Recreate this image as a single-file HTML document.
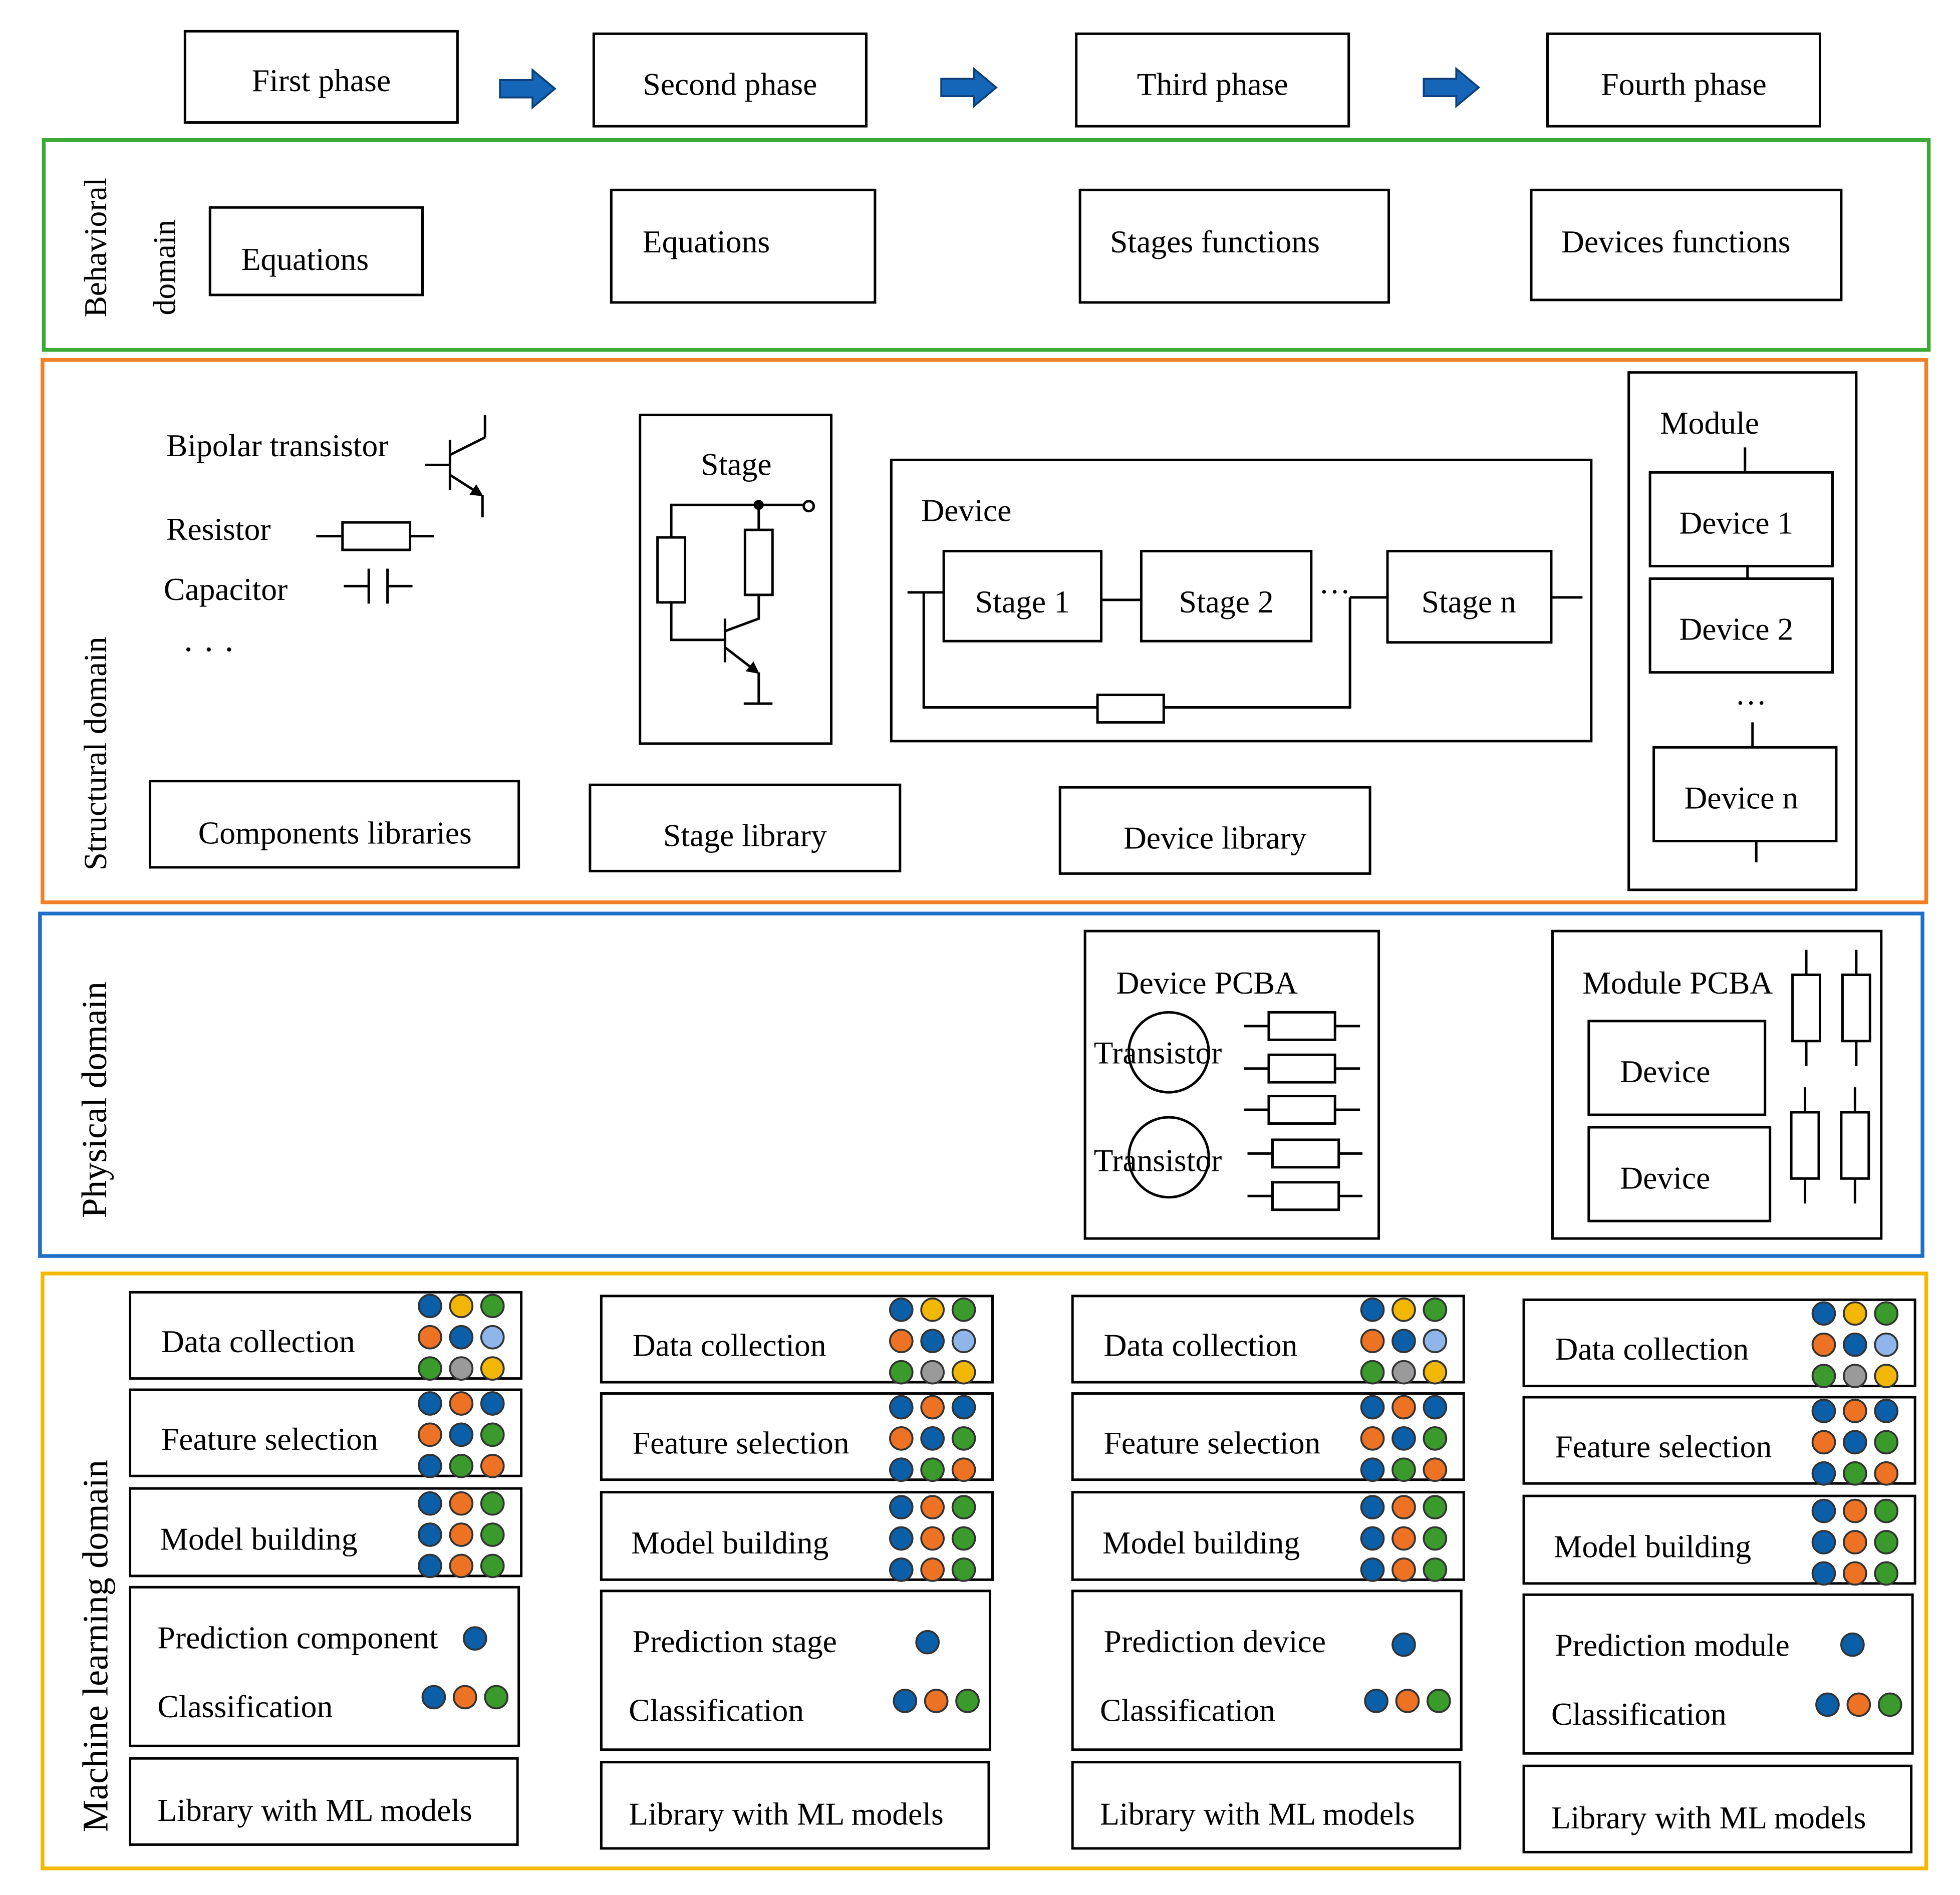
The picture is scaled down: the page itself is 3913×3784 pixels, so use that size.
<!DOCTYPE html>
<html><head><meta charset="utf-8"><style>
html,body{margin:0;padding:0;background:#fff}
svg{display:block}
text{font-family:"Liberation Serif",serif;font-size:25.5px;fill:#000}
</style></head><body>
<svg width="3913" height="3784" viewBox="0 0 1568 1516.3" preserveAspectRatio="none" xmlns="http://www.w3.org/2000/svg">
<defs>
<marker id="ah" markerWidth="10" markerHeight="10" refX="8" refY="5" orient="auto" markerUnits="userSpaceOnUse"><path d="M0,0 L10,5 L0,10 z" fill="#000"/></marker>
<g id="arr"><path d="M0,-7 H26 V-15 L44,0 L26,15 V7 H0 z" fill="#1565b8" stroke="#0d3f7a" stroke-width="1.5"/></g>
</defs>
<g fill="none" stroke="#000" stroke-width="2">
<rect x="148" y="25" width="218" height="73"/>
<rect x="475" y="27" width="218" height="74"/>
<rect x="861" y="27" width="218" height="74"/>
<rect x="1238" y="27" width="218" height="74"/>
</g>
<text x="257" y="73" text-anchor="middle">First phase</text>
<text x="584" y="76" text-anchor="middle">Second phase</text>
<text x="970" y="76" text-anchor="middle">Third phase</text>
<text x="1347" y="76" text-anchor="middle">Fourth phase</text>
<use href="#arr" x="400" y="71"/><use href="#arr" x="753" y="70"/><use href="#arr" x="1139" y="70"/>

<rect x="35" y="112" width="1508" height="168" fill="none" stroke="#3aaa35" stroke-width="3"/>
<rect x="34" y="288" width="1507" height="434" fill="none" stroke="#f07f25" stroke-width="3"/>
<rect x="32" y="731" width="1506" height="274" fill="none" stroke="#1f6fc5" stroke-width="3"/>
<rect x="34" y="1019" width="1507" height="476" fill="none" stroke="#f5b800" stroke-width="3"/>
<text transform="translate(85,198) rotate(-90)" text-anchor="middle">Behavioral</text>
<text transform="translate(140,214) rotate(-90)" text-anchor="middle">domain</text>
<text transform="translate(85,603) rotate(-90)" text-anchor="middle" style="font-size:26px">Structural domain</text>
<text transform="translate(85,880) rotate(-90)" text-anchor="middle" style="font-size:28.5px">Physical domain</text>
<text transform="translate(86,1317) rotate(-90)" text-anchor="middle" style="font-size:29px">Machine learning domain</text>

<g fill="none" stroke="#000" stroke-width="2">
<rect x="168" y="166" width="170" height="70"/>
<rect x="489" y="152" width="211" height="90"/>
<rect x="864" y="152" width="247" height="90"/>
<rect x="1225" y="152" width="248" height="88"/>
</g>
<text x="193" y="216">Equations</text>
<text x="514" y="202">Equations</text>
<text x="888" y="202">Stages functions</text>
<text x="1249" y="202">Devices functions</text>

<text x="133" y="365">Bipolar transistor</text>
<text x="133" y="432">Resistor</text>
<text x="131" y="480">Capacitor</text>
<text x="146" y="529" style="font-size:28px">· · ·</text>
<g fill="none" stroke="#000" stroke-width="2">
<line x1="340" y1="372" x2="360" y2="372"/><line x1="360" y1="352" x2="360" y2="392"/>
<line x1="360" y1="364" x2="388" y2="350"/><line x1="388" y1="350" x2="388" y2="332"/>
<line x1="360" y1="380" x2="385" y2="396" marker-end="url(#ah)"/><line x1="386" y1="396" x2="386" y2="414"/>
<line x1="253" y1="429" x2="347" y2="429"/><rect x="274" y="418" width="54" height="22" fill="#fff"/>
<line x1="275" y1="469" x2="295" y2="469"/><line x1="295" y1="455" x2="295" y2="483"/><line x1="310" y1="455" x2="310" y2="483"/><line x1="310" y1="469" x2="330" y2="469"/>
<rect x="512" y="332" width="153" height="263"/>
<polyline points="537,430 537,404 643,404"/>
<circle cx="647" cy="405" r="4"/>
<circle cx="607" cy="404" r="3" fill="#000"/>
<rect x="526" y="430" width="22" height="52"/>
<polyline points="537,482 537,512 580,512"/>
<line x1="607" y1="404" x2="607" y2="424"/>
<rect x="596" y="424" width="22" height="52"/>
<line x1="580" y1="495" x2="580" y2="530"/>
<polyline points="607,476 607,495 580,505"/>
<line x1="580" y1="518" x2="606" y2="538" marker-end="url(#ah)"/>
<line x1="607" y1="538" x2="607" y2="563"/><line x1="595" y1="563" x2="618" y2="563"/>
<rect x="713" y="368" width="560" height="225"/>
<rect x="755" y="441" width="126" height="72"/>
<rect x="913" y="441" width="136" height="72"/>
<rect x="1110" y="441" width="131" height="73"/>
<line x1="726" y1="474" x2="755" y2="474"/><line x1="881" y1="480" x2="913" y2="480"/>
<line x1="1080" y1="478" x2="1110" y2="478"/><line x1="1241" y1="478" x2="1266" y2="478"/>
<polyline points="739,474 739,566 878,566"/><rect x="878" y="556" width="53" height="22"/>
<polyline points="931,566 1080,566 1080,478"/>
<rect x="1303" y="298" width="182" height="414"/>
<rect x="1320" y="378" width="146" height="75"/>
<rect x="1320" y="463" width="146" height="75"/>
<rect x="1323" y="598" width="146" height="75"/>
<line x1="1396" y1="358" x2="1396" y2="378"/><line x1="1398" y1="453" x2="1398" y2="463"/>
<line x1="1402" y1="578" x2="1402" y2="598"/><line x1="1405" y1="673" x2="1405" y2="690"/>
<rect x="120" y="625" width="295" height="69"/>
<rect x="472" y="628" width="248" height="69"/>
<rect x="848" y="630" width="248" height="69"/>
</g>
<text x="589" y="380" text-anchor="middle">Stage</text>
<text x="737" y="417">Device</text>
<text x="818" y="490" text-anchor="middle">Stage 1</text>
<text x="981" y="490" text-anchor="middle">Stage 2</text>
<text x="1175" y="490" text-anchor="middle">Stage n</text>
<text x="1055" y="482">···</text>
<text x="1328" y="347">Module</text>
<text x="1389" y="427" text-anchor="middle">Device 1</text>
<text x="1389" y="512" text-anchor="middle">Device 2</text>
<text x="1388" y="571">···</text>
<text x="1393" y="647" text-anchor="middle">Device n</text>
<text x="268" y="675" text-anchor="middle">Components libraries</text>
<text x="596" y="677" text-anchor="middle">Stage library</text>
<text x="972" y="679" text-anchor="middle">Device library</text>

<g fill="none" stroke="#000" stroke-width="2">
<rect x="868" y="745" width="235" height="246"/>
<circle cx="935" cy="842" r="32"/><circle cx="935" cy="926" r="32"/>
<line x1="995" y1="821" x2="1088" y2="821"/><rect x="1015" y="810" width="53" height="22" fill="#fff"/>
<line x1="995" y1="855" x2="1088" y2="855"/><rect x="1015" y="844" width="53" height="22" fill="#fff"/>
<line x1="995" y1="888" x2="1088" y2="888"/><rect x="1015" y="877" width="53" height="22" fill="#fff"/>
<line x1="998" y1="923" x2="1090" y2="923"/><rect x="1018" y="912" width="53" height="22" fill="#fff"/>
<line x1="998" y1="957" x2="1090" y2="957"/><rect x="1018" y="946" width="53" height="22" fill="#fff"/>
<rect x="1242" y="745" width="263" height="246"/>
<rect x="1271" y="817" width="141" height="75"/>
<rect x="1271" y="902" width="145" height="75"/>
<line x1="1445" y1="760" x2="1445" y2="853"/><rect x="1434" y="780" width="22" height="53" fill="#fff"/>
<line x1="1485" y1="760" x2="1485" y2="853"/><rect x="1474" y="780" width="22" height="53" fill="#fff"/>
<line x1="1444" y1="870" x2="1444" y2="963"/><rect x="1433" y="890" width="22" height="53" fill="#fff"/>
<line x1="1484" y1="870" x2="1484" y2="963"/><rect x="1473" y="890" width="22" height="53" fill="#fff"/>
</g>
<text x="893" y="795">Device PCBA</text>
<text x="875" y="851">Transistor</text>
<text x="875" y="937">Transistor</text>
<text x="1266" y="795">Module PCBA</text>
<text x="1296" y="866">Device</text>
<text x="1296" y="951">Device</text>

<defs>
<g id="dc"><circle cx="0" cy="0" r="9" fill="#0b5fa8"/><circle cx="25" cy="0" r="9" fill="#f2b705"/><circle cx="50" cy="0" r="9" fill="#3a9a2c"/>
<circle cx="0" cy="25" r="9" fill="#ee7223"/><circle cx="25" cy="25" r="9" fill="#0b5fa8"/><circle cx="50" cy="25" r="9" fill="#8fb6ea"/>
<circle cx="0" cy="50" r="9" fill="#3a9a2c"/><circle cx="25" cy="50" r="9" fill="#9a9a9a"/><circle cx="50" cy="50" r="9" fill="#f2b705"/></g>
<g id="fs"><circle cx="0" cy="0" r="9" fill="#0b5fa8"/><circle cx="25" cy="0" r="9" fill="#ee7223"/><circle cx="50" cy="0" r="9" fill="#0b5fa8"/>
<circle cx="0" cy="25" r="9" fill="#ee7223"/><circle cx="25" cy="25" r="9" fill="#0b5fa8"/><circle cx="50" cy="25" r="9" fill="#3a9a2c"/>
<circle cx="0" cy="50" r="9" fill="#0b5fa8"/><circle cx="25" cy="50" r="9" fill="#3a9a2c"/><circle cx="50" cy="50" r="9" fill="#ee7223"/></g>
<g id="mb"><circle cx="0" cy="0" r="9" fill="#0b5fa8"/><circle cx="25" cy="0" r="9" fill="#ee7223"/><circle cx="50" cy="0" r="9" fill="#3a9a2c"/>
<circle cx="0" cy="25" r="9" fill="#0b5fa8"/><circle cx="25" cy="25" r="9" fill="#ee7223"/><circle cx="50" cy="25" r="9" fill="#3a9a2c"/>
<circle cx="0" cy="50" r="9" fill="#0b5fa8"/><circle cx="25" cy="50" r="9" fill="#ee7223"/><circle cx="50" cy="50" r="9" fill="#3a9a2c"/></g>
<g id="cl"><circle cx="0" cy="0" r="9" fill="#0b5fa8"/><circle cx="25" cy="0" r="9" fill="#ee7223"/><circle cx="50" cy="0" r="9" fill="#3a9a2c"/></g>
<g id="col">
<g fill="none" stroke="#000" stroke-width="2">
<rect x="0" y="0" width="313" height="69"/>
<rect x="0" y="78" width="313" height="69"/>
<rect x="0" y="157" width="313" height="70"/>
<rect x="0" y="236" width="311" height="127"/>
<rect x="0" y="373" width="310" height="69"/>
</g>
<g stroke="#333" stroke-width="1.5"><use href="#dc" x="240" y="11"/><use href="#fs" x="240" y="89"/><use href="#mb" x="240" y="169"/><use href="#cl" x="243" y="324"/></g>
<text x="25" y="48">Data collection</text>
<text x="25" y="126">Feature selection</text>
<text x="24" y="206">Model building</text>
<text x="22" y="340">Classification</text>
<text x="22" y="423">Library with ML models</text>
</g>
</defs>
<use href="#col" x="104" y="1034"/>
<use href="#col" x="481" y="1037"/>
<use href="#col" x="858" y="1037"/>
<use href="#col" x="1219" y="1040"/>
<g stroke="#333" stroke-width="1.5" fill="#0b5fa8">
<circle cx="380" cy="1311" r="9"/><circle cx="742" cy="1314" r="9"/><circle cx="1123" cy="1316" r="9"/><circle cx="1482" cy="1316" r="9"/>
</g>
<text x="126" y="1319">Prediction component</text>
<text x="506" y="1322">Prediction stage</text>
<text x="883" y="1322">Prediction device</text>
<text x="1244" y="1325">Prediction module</text>
</svg>
</body></html>
